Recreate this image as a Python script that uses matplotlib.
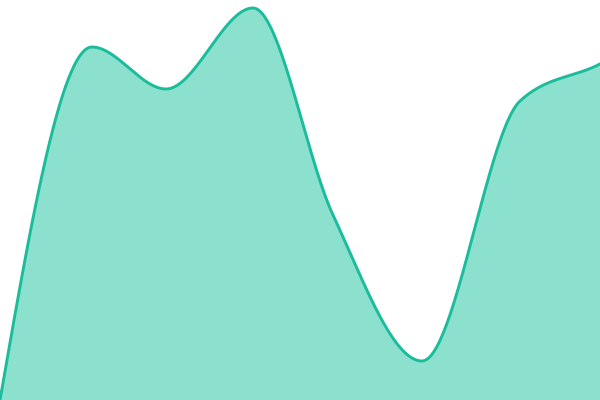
import matplotlib
matplotlib.use("Agg")
import matplotlib.pyplot as plt
import numpy as np

# sample positions along x (uneven) and their values; the last one lies past the right edge
xs = [0, 92, 166, 253, 333, 422, 520, 600, 650]
values = [0, 353, 311, 392, 185, 39, 299, 336, 364]

line_color = "#1abc9c"
fill_color = "#8be0ce"


def monotone(x, y, n=60):
    # monotone cubic (same rule as d3 curveMonotoneX)
    x = np.asarray(x, float)
    y = np.asarray(y, float)
    h = np.diff(x)
    s = np.diff(y) / h
    t = np.zeros(len(x))
    for i in range(1, len(x) - 1):
        s0, s1 = s[i - 1], s[i]
        p = (s0 * h[i] + s1 * h[i - 1]) / (h[i - 1] + h[i])
        t[i] = (np.sign(s0) + np.sign(s1)) * min(abs(s0), abs(s1), 0.5 * abs(p))
    t[0] = (3 * s[0] - t[1]) / 2
    t[-1] = (3 * s[-1] - t[-2]) / 2
    outx, outy = [], []
    u = np.linspace(0, 1, n)
    h00 = 2 * u**3 - 3 * u**2 + 1
    h10 = u**3 - 2 * u**2 + u
    h01 = -2 * u**3 + 3 * u**2
    h11 = u**3 - u**2
    for i in range(len(x) - 1):
        outx.extend(x[i] + u * h[i])
        outy.extend(h00 * y[i] + h10 * h[i] * t[i] + h01 * y[i + 1] + h11 * h[i] * t[i + 1])
    return np.array(outx), np.array(outy)


sx, sy = monotone(xs, values)

fig = plt.figure(figsize=(6, 4), dpi=100)
ax = fig.add_axes([0, 0, 1, 1])
ax.fill_between(sx, sy, 0, color=fill_color, linewidth=0)
ax.plot(sx, sy, color=line_color, linewidth=2.1, solid_capstyle="round")
ax.set_xlim(0, 600)
ax.set_ylim(0, 400)
ax.axis("off")

fig.savefig("out.png", dpi=100)
